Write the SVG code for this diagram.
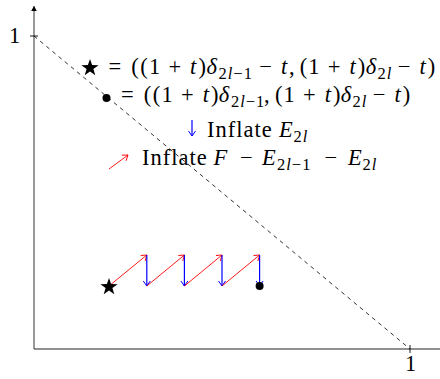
<svg xmlns="http://www.w3.org/2000/svg" width="440" height="379" viewBox="0 0 440 379">
<defs>
<style>
.t{font-family:"Liberation Serif","DejaVu Serif",serif;font-size:22.5px;fill:#000}
.i{font-style:italic}
.s{font-size:16.5px}
.sl{letter-spacing:1px}
.w{letter-spacing:1px}
.ax{stroke:#000;stroke-width:0.9;fill:none}
.r{stroke:#f00;stroke-width:0.9;fill:none;marker-end:url(#mr)}
.b{stroke:#00f;stroke-width:1.2;fill:none;marker-end:url(#mb)}
</style>
<marker id="mr" markerWidth="10" markerHeight="10" refX="0" refY="0" viewBox="-6 -5 8 10" orient="auto" markerUnits="userSpaceOnUse"><path d="M-5,-3.5 Q-1.5,-1 0,0 Q-1.5,1 -5,3.5" stroke="#f00" stroke-width="0.9" fill="none"/></marker>
<marker id="mb" markerWidth="10" markerHeight="10" refX="0" refY="0" viewBox="-6 -5 8 10" orient="auto" markerUnits="userSpaceOnUse"><path d="M-5,-3.5 Q-1.5,-1 0,0 Q-1.5,1 -5,3.5" stroke="#00f" stroke-width="1" fill="none"/></marker>
<marker id="ma" markerWidth="10" markerHeight="10" refX="0" refY="0" viewBox="-6 -5 8 10" orient="auto" markerUnits="userSpaceOnUse"><path d="M-5,-2.8 L0,0 L-5,2.8 Z" fill="#000"/></marker>
<symbol id="star" viewBox="-10 -10 20 20" overflow="visible"><polygon points="0,-9 2.1,-2.9 8.6,-2.8 3.4,1.1 5.3,7.3 0,3.6 -5.3,7.3 -3.4,1.1 -8.6,-2.8 -2.1,-2.9" fill="#000"/></symbol>
</defs>
<g id="axes">
<line x1="34" y1="349" x2="34" y2="6" stroke="#555" stroke-width="1.2" marker-end="url(#ma)"/>
<line x1="34" y1="349" x2="440" y2="349" stroke="#222" stroke-width="1"/>
<line class="ax" x1="30" y1="36" x2="38" y2="36" stroke-width="0.6"/>
<line class="ax" x1="410" y1="345" x2="410" y2="353" stroke-width="0.6"/>
<text class="t" x="9" y="43">1</text>
<text class="t" x="405" y="371">1</text>
</g>
<g id="diagonal"><line x1="34" y1="36" x2="410" y2="349" stroke="#000" stroke-width="0.8" stroke-dasharray="4,4"/></g>
<g id="legend-star">
<use href="#star" x="80" y="58" width="20" height="20"/>
<text class="t" y="73.5"><tspan x="108.4 131.2 140.3 149 168.5">=((1+</tspan><tspan class="i" x="190.1">t</tspan><tspan x="198.4">)</tspan><tspan class="i" x="206.4">δ</tspan><tspan class="s sl" x="218.5" dy="5">2<tspan class="i">l</tspan>−1</tspan><tspan x="259.3" dy="-5">−</tspan><tspan class="i" x="281">t</tspan><tspan x="289 299.7 308.3 327.8">,(1+</tspan><tspan class="i" x="349.5">t</tspan><tspan x="357.8">)</tspan><tspan class="i" x="365.7">δ</tspan><tspan class="s sl" x="377.5" dy="5">2<tspan class="i">l</tspan></tspan><tspan x="397.8" dy="-5">−</tspan><tspan class="i" x="419.5">t</tspan><tspan x="427.8">)</tspan></text>
</g>
<g id="legend-dot">
<circle cx="106.5" cy="98" r="4" fill="#000"/>
<text class="t" y="102"><tspan x="120.95 143.7 152.8 161.4 180.95">=((1+</tspan><tspan class="i" x="202.7">t</tspan><tspan x="210.9">)</tspan><tspan class="i" x="218.8">δ</tspan><tspan class="s sl" x="230.9" dy="5">2<tspan class="i">l</tspan>−1</tspan><tspan x="264.1 274.9 283.5 302.95" dy="-5">,(1+</tspan><tspan class="i" x="324.7">t</tspan><tspan x="332.9">)</tspan><tspan class="i" x="340.8">δ</tspan><tspan class="s sl" x="352.6" dy="5">2<tspan class="i">l</tspan></tspan><tspan x="372.75" dy="-5">−</tspan><tspan class="i" x="394.5">t</tspan><tspan x="402.7">)</tspan></text>
</g>
<g id="legend-blue">
<line class="b" x1="192" y1="120" x2="192" y2="136"/>
<text class="t" y="137"><tspan class="w" x="207">Inflate</tspan><tspan class="i" x="279">E</tspan><tspan class="s sl" x="293.5" dy="5">2<tspan class="i">l</tspan></tspan></text>
</g>
<g id="legend-red">
<line class="r" x1="109" y1="169" x2="128" y2="155"/>
<text class="t" y="165"><tspan class="w" x="142">Inflate</tspan><tspan class="i" x="213.5">F</tspan><tspan x="240">−</tspan><tspan class="i" x="262">E</tspan><tspan class="s sl" x="277" dy="5">2<tspan class="i">l</tspan>−1</tspan><tspan x="324.5" dy="-5">−</tspan><tspan class="i" x="348">E</tspan><tspan class="s sl" x="362.5" dy="5">2<tspan class="i">l</tspan></tspan></text>
</g>
<g id="connectors">
<line class="r" x1="109" y1="286" x2="146.8" y2="255"/>
<line class="b" x1="146.8" y1="255" x2="146.8" y2="286"/>
<line class="r" x1="146.8" y1="286" x2="184.4" y2="255"/>
<line class="b" x1="184.4" y1="255" x2="184.4" y2="286"/>
<line class="r" x1="184.4" y1="286" x2="222" y2="255"/>
<line class="b" x1="222" y1="255" x2="222" y2="286"/>
<line class="r" x1="222" y1="286" x2="259.6" y2="255"/>
<line class="b" x1="259.6" y1="255" x2="259.6" y2="286"/>
</g>
<g id="start-star"><use href="#star" x="99" y="277" width="20" height="20"/></g>
<g id="end-dot"><circle cx="259.6" cy="286" r="4" fill="#000"/></g>
</svg>
